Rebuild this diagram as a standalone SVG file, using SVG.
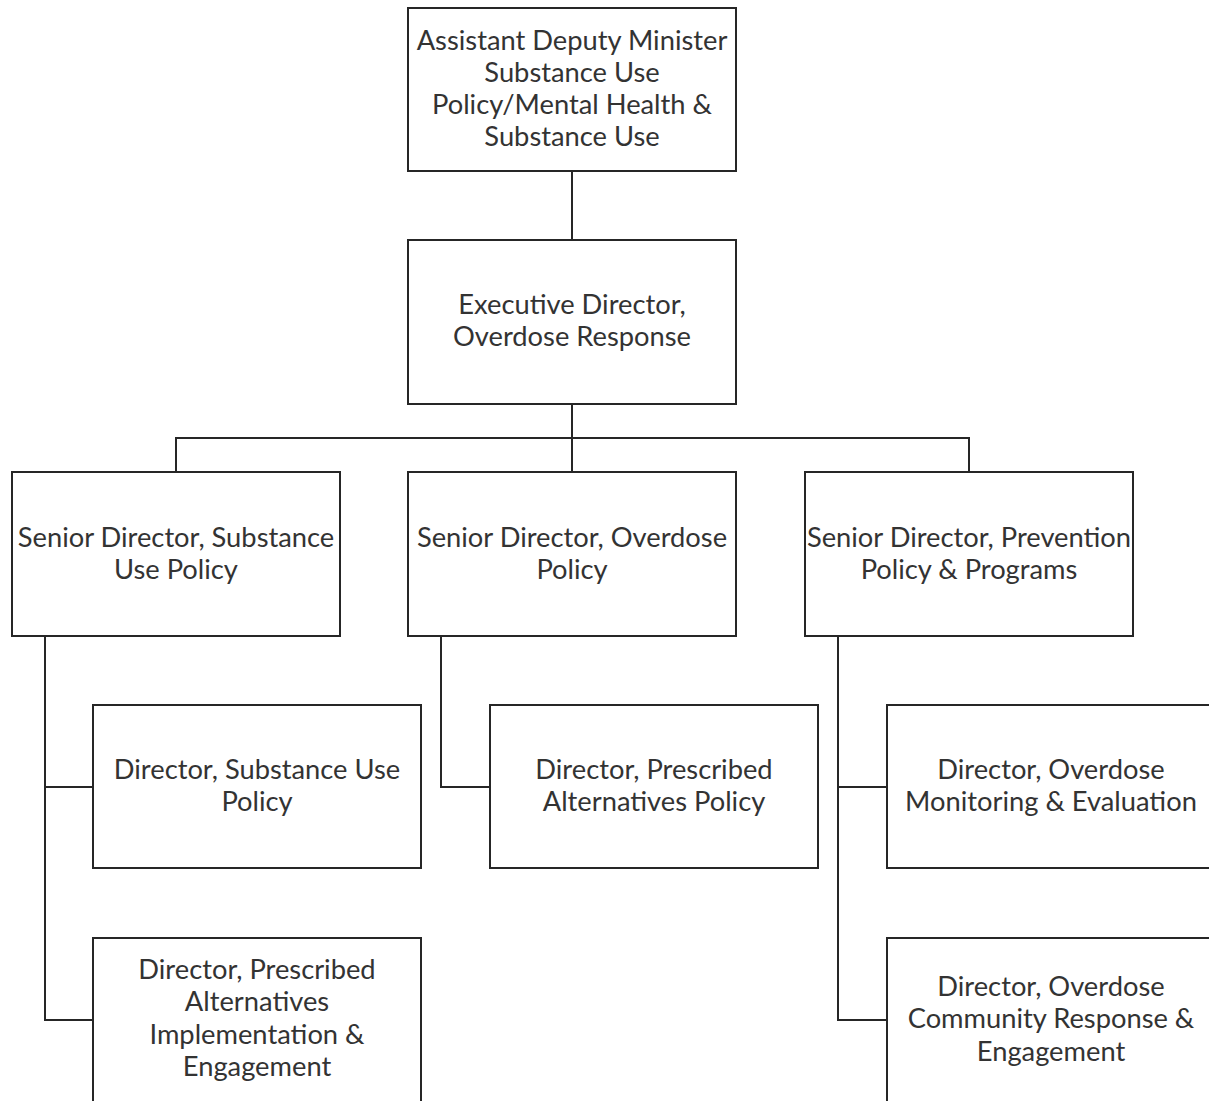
<svg xmlns="http://www.w3.org/2000/svg" width="1209" height="1101" viewBox="0 0 1209 1101">
<style>
.box{fill:#fff;stroke:#262626;stroke-width:2}
.ln{fill:none;stroke:#262626;stroke-width:2}
text{font-family:Lato,"Open Sans",sans-serif;font-size:27.3px;fill:#333;text-anchor:middle}
</style>
<rect width="1209" height="1101" fill="#fff"/>
<g id="connectors">
<path class="ln" d="M572 171V240"/>
<path class="ln" d="M572 404V472M176 472V438H969V472"/>
<path class="ln" d="M45 636V1020H93M45 787H93"/>
<path class="ln" d="M441 636V787H490"/>
<path class="ln" d="M838 636V1020H887M838 787H887"/>
</g>
<g id="adm"><rect class="box" x="408" y="8" width="328" height="163"/>
<text x="572" y="50">Assistant Deputy Minister</text><text x="572" y="82">Substance Use</text><text x="572" y="114">Policy/Mental Health &amp;</text><text x="572" y="146">Substance Use</text></g>
<g id="ed"><rect class="box" x="408" y="240" width="328" height="164"/>
<text x="572" y="314">Executive Director,</text><text x="572" y="346">Overdose Response</text></g>
<g id="sd1"><rect class="box" x="12" y="472" width="328" height="164"/>
<text x="176" y="547">Senior Director, Substance</text><text x="176" y="579">Use Policy</text></g>
<g id="sd2"><rect class="box" x="408" y="472" width="328" height="164"/>
<text x="572" y="547">Senior Director, Overdose</text><text x="572" y="579">Policy</text></g>
<g id="sd3"><rect class="box" x="805" y="472" width="328" height="164"/>
<text x="969" y="547">Senior Director, Prevention</text><text x="969" y="579">Policy &amp; Programs</text></g>
<g id="d1"><rect class="box" x="93" y="705" width="328" height="163"/>
<text x="257" y="779">Director, Substance Use</text><text x="257" y="811">Policy</text></g>
<g id="d2"><rect class="box" x="490" y="705" width="328" height="163"/>
<text x="654" y="779">Director, Prescribed</text><text x="654" y="811">Alternatives Policy</text></g>
<g id="d3"><rect class="box" x="887" y="705" width="328" height="163"/>
<text x="1051" y="779">Director, Overdose</text><text x="1051" y="811">Monitoring &amp; Evaluation</text></g>
<g id="d4"><rect class="box" x="93" y="938" width="328" height="170"/>
<text x="257" y="979">Director, Prescribed</text><text x="257" y="1011">Alternatives</text><text x="257" y="1044">Implementation &amp;</text><text x="257" y="1076">Engagement</text></g>
<g id="d5"><rect class="box" x="887" y="938" width="328" height="170"/>
<text x="1051" y="996">Director, Overdose</text><text x="1051" y="1028">Community Response &amp;</text><text x="1051" y="1061">Engagement</text></g>
</svg>
